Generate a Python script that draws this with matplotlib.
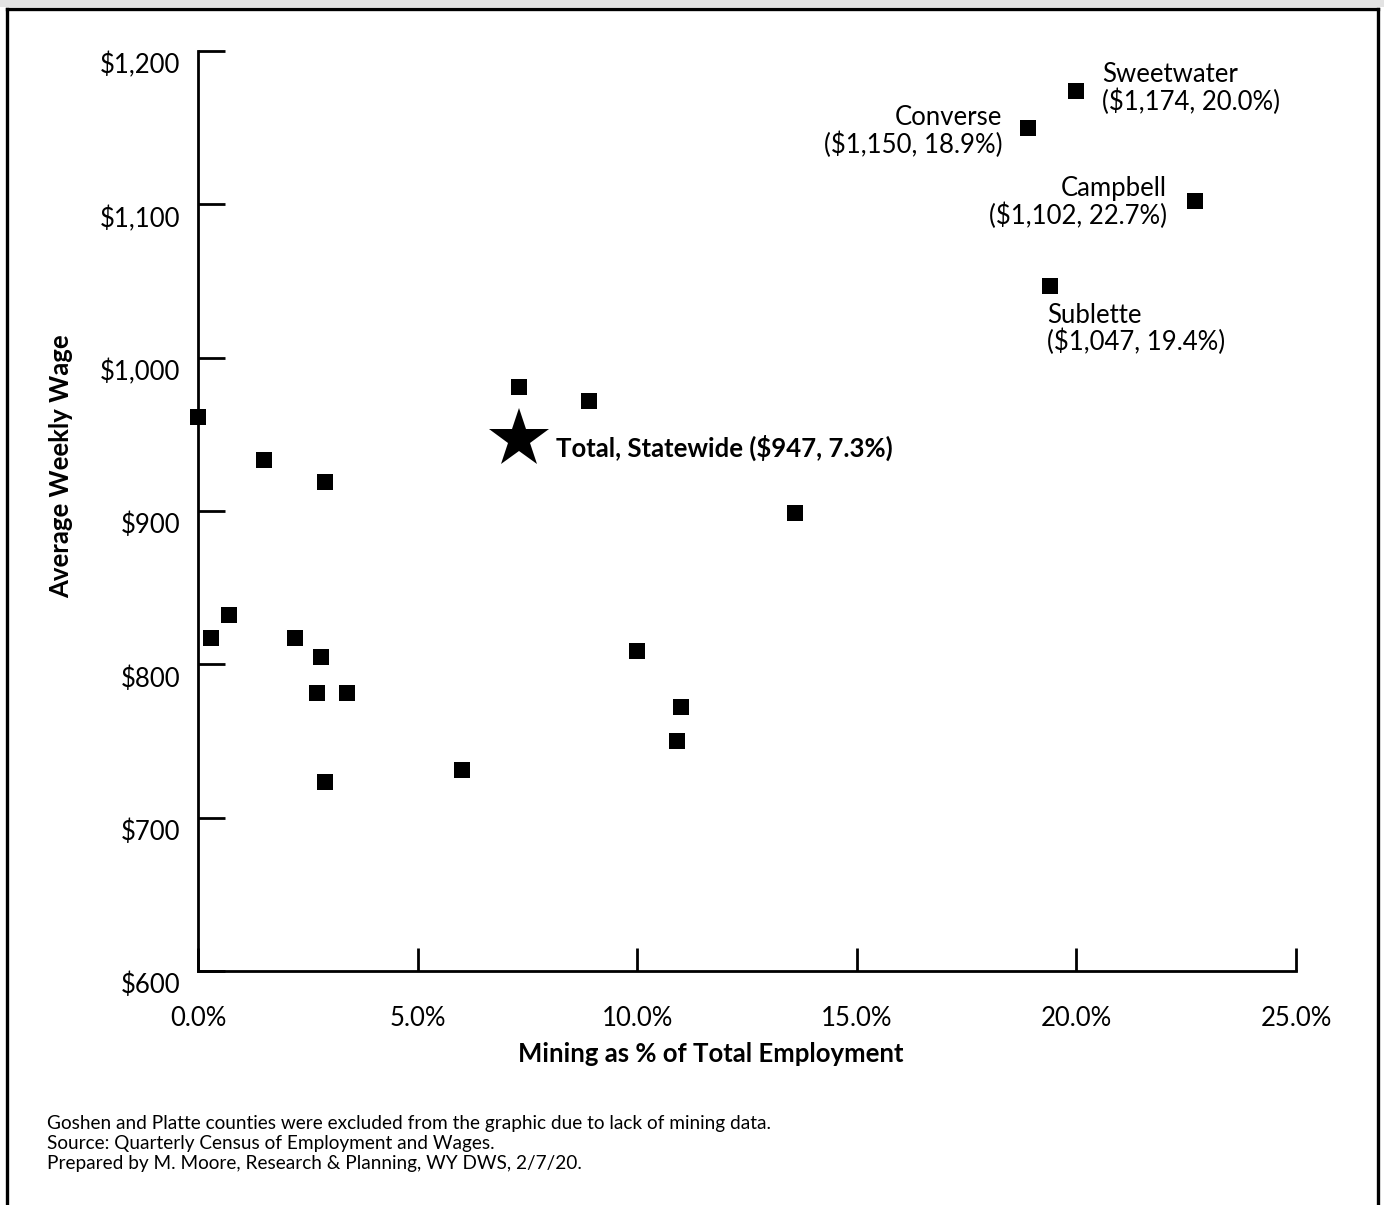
import matplotlib
matplotlib.use("Agg")
import matplotlib.pyplot as plt
from matplotlib.lines import Line2D
from matplotlib.patches import Rectangle
import matplotlib.transforms as mtransforms

plt.rcParams['font.family'] = ['Lato', 'DejaVu Sans']

# ---- data ----
mining_pct = [0.0, 1.5, 2.9, 7.3, 8.9, 13.6, 0.3, 0.7, 2.2, 2.8, 2.7, 3.4, 2.9, 6.0, 10.0, 11.0, 10.9]
weekly_wage = [961, 933, 919, 981, 972, 899, 817, 832, 817, 805, 781, 781, 723, 731, 809, 772, 750]

labeled_names = ["Sweetwater", "Converse", "Campbell", "Sublette"]
labeled_pct = [20.0, 18.9, 22.7, 19.4]
labeled_wage = [1174, 1150, 1102, 1047]

state_name = "Total, Statewide"
state_pct = 7.3
state_wage = 947

x_ticks = [0, 5, 10, 15, 20, 25]
x_tick_labels = ["0.0%", "5.0%", "10.0%", "15.0%", "20.0%", "25.0%"]
y_ticks = [600, 700, 800, 900, 1000, 1100, 1200]
y_tick_labels = ["$600", "$700", "$800", "$900", "$1,000", "$1,100", "$1,200"]

footnotes = [
    "Goshen and Platte counties were excluded from the graphic due to lack of mining data.",
    "Source: Quarterly Census of Employment and Wages.",
    "Prepared by M. Moore, Research & Planning, WY DWS, 2/7/20.",
]

W, H = 1384, 1205
fig = plt.figure(figsize=(W / 100, H / 100), dpi=100)

def fx(px):
    return px / W

def fy(py):
    return 1 - py / H

# top grey bar and frame
fig.patches.append(Rectangle((0, fy(7)), 1, 7 / H, transform=fig.transFigure,
                             facecolor="#e3e3e3", edgecolor="none", zorder=0))
for xs, ys in [([fx(6.5), fx(6.5)], [fy(8.5), -0.01]),
               ([fx(6.5), fx(1378)], [fy(8.5), fy(8.5)]),
               ([fx(1378), fx(1378)], [fy(8.5), -0.01])]:
    fig.lines.append(Line2D(xs, ys, transform=fig.transFigure, color="black", lw=2.4))

ax = fig.add_axes([fx(198), fy(971), fx(1296) - fx(198), fy(51) - fy(971)])
ax.set_xlim(0, 25)
ax.set_ylim(600, 1200)
for s in ["top", "right"]:
    ax.spines[s].set_visible(False)
for s in ["left", "bottom"]:
    ax.spines[s].set_linewidth(2.0)
    ax.spines[s].set_color("black")

ax.set_xticks(x_ticks)
ax.set_xticklabels(x_tick_labels, fontsize=18.5)
ax.set_yticks(y_ticks)
ax.set_yticklabels(y_tick_labels, fontsize=18.5)
ax.tick_params(axis="x", direction="in", length=16.5, width=2.0, pad=25)
ax.tick_params(axis="y", direction="in", length=19.5, width=2.0, pad=13)
offset = mtransforms.ScaledTranslation(0, -12 / 100, fig.dpi_scale_trans)
for lab in ax.get_yticklabels():
    lab.set_transform(lab.get_transform() + offset)

ax.plot(mining_pct, weekly_wage, linestyle="none", marker="s", ms=12,
        color="black", mew=0, clip_on=False, zorder=3)
ax.plot(labeled_pct, labeled_wage, linestyle="none", marker="s", ms=12,
        color="black", mew=0, clip_on=False, zorder=3)
ax.plot([state_pct], [state_wage], linestyle="none", marker="*", ms=45,
        color="black", mew=0, zorder=3)

# label offsets in pixels (dx, dy, ha)
label_style = {
    "Sweetwater": (26, 2.5, "left"),
    "Converse": (-26, -4, "right"),
    "Campbell": (-28, -1.5, "right"),
    "Sublette": (-3, -43.5, "left"),
}
for name, px, wg in zip(labeled_names, labeled_pct, labeled_wage):
    dx, dy, ha = label_style[name]
    txt = f"{name}\n(${wg:,}, {px:.1f}%)"
    ax.annotate(txt, (px, wg), xytext=(dx * 0.72, dy * 0.72), textcoords="offset points",
                ha=ha, va="center", fontsize=18.5, linespacing=1.05,
                multialignment=ha)

ax.annotate(f"{state_name} (${state_wage:,}, {state_pct:.1f}%)", (state_pct, state_wage),
            xytext=(37 * 0.72, -9 * 0.72), textcoords="offset points",
            ha="left", va="center", fontsize=18.5, fontweight="bold")

fig.text(fx(711), fy(1054), "Mining as % of Total Employment", ha="center", va="center",
         fontsize=18.5, fontweight="bold")
fig.text(fx(61), fy(466), "Average Weekly Wage", ha="center", va="center",
         rotation=90, fontsize=18.5, fontweight="bold")

for i, line in enumerate(footnotes):
    fig.text(fx(47), fy(1124 + 20 * i), line, ha="left", va="center", fontsize=13.7)

fig.savefig("out.png", dpi=100)
